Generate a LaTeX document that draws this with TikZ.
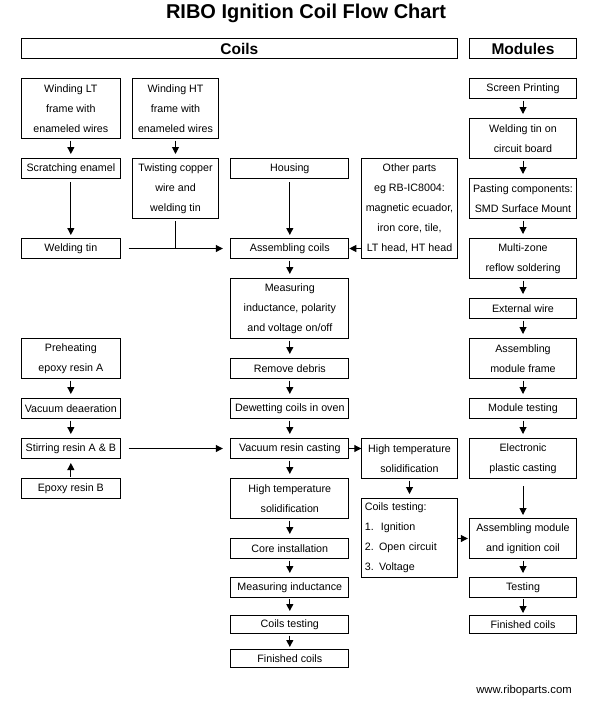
\documentclass[tikz,border=0pt]{standalone}
\usepackage{fontspec}
\setmainfont{Liberation Sans}
\usetikzlibrary{arrows.meta}
\begin{document}
\begin{tikzpicture}[x=1pt,y=-1pt,
  txt/.style={font=\fontsize{10.7}{20}\selectfont},
  bx/.style={draw,line width=1pt,inner sep=0pt,anchor=north west,align=center,txt},
  arr/.style={line width=1pt,-{Triangle[length=7pt,width=7pt]},shorten <=1.5pt,shorten >=4pt},
  harr/.style={line width=1pt,-{Triangle[length=7pt,width=7pt]}},
  ln/.style={line width=1pt}]
\useasboundingbox (0,0) rectangle (599,717);
% title and headers
\node[font=\fontsize{20}{24}\selectfont\bfseries] (title) at (306,13) {RIBO Ignition Coil Flow Chart};
\node[bx,minimum width=435.7pt,minimum height=20pt,font=\fontsize{15.5}{18}\selectfont\bfseries] (coilsH) at (21,38) {Coils};
\node[bx,minimum width=106.4pt,minimum height=20pt,font=\fontsize{15.5}{18}\selectfont\bfseries] (modH) at (469.3,38) {Modules};
% column 1
\node[bx,minimum width=98.7pt,minimum height=60pt] (wlt) at (21,78) {Winding LT\\frame with\\enameled wires};
\node[bx,minimum width=98.7pt,minimum height=20pt] (scr) at (21,158) {Scratching enamel};
\node[bx,minimum width=98.7pt,minimum height=20pt] (wt) at (21,238) {Welding tin};
\node[bx,minimum width=98.7pt,minimum height=40pt] (pre) at (21,338) {Preheating\\epoxy resin A};
\node[bx,minimum width=98.7pt,minimum height=20pt] (vde) at (21,398) {Vacuum deaeration};
\node[bx,minimum width=98.7pt,minimum height=20pt] (stir) at (21,438) {Stirring resin A \& B};
\node[bx,minimum width=98.7pt,minimum height=20pt] (epb) at (21,478) {Epoxy resin B};
% column 2
\node[bx,minimum width=85.4pt,minimum height=60pt] (wht) at (132.3,78) {Winding HT\\frame with\\enameled wires};
\node[bx,minimum width=85.4pt,minimum height=60pt] (twi) at (132.3,158) {Twisting copper\\wire and\\welding tin};
% column 3
\node[bx,minimum width=118pt,minimum height=20pt] (hou) at (230.3,158) {Housing};
\node[bx,minimum width=118pt,minimum height=20pt] (asc) at (230.3,238) {Assembling coils};
\node[bx,minimum width=118pt,minimum height=60pt] (mea) at (230.3,278) {Measuring\\inductance, polarity\\and voltage on/off};
\node[bx,minimum width=118pt,minimum height=20pt] (rem) at (230.3,358) {Remove debris};
\node[bx,minimum width=118pt,minimum height=20pt] (dew) at (230.3,398) {Dewetting coils in oven};
\node[bx,minimum width=118pt,minimum height=20pt] (vrc) at (230.3,438) {Vacuum resin casting};
\node[bx,minimum width=118pt,minimum height=40pt] (hts) at (230.3,478) {High temperature\\solidification};
\node[bx,minimum width=118pt,minimum height=20pt] (core) at (230.3,538) {Core installation};
\node[bx,minimum width=118pt,minimum height=19.5pt] (mi) at (230.3,577) {Measuring inductance};
\node[bx,minimum width=118pt,minimum height=18pt] (ct) at (230.3,615) {Coils testing};
\node[bx,minimum width=118pt,minimum height=17.5pt] (fc) at (230.3,649) {Finished coils};
% column 4
\node[bx,minimum width=95.4pt,minimum height=100pt] (oth) at (361.3,158) {Other parts\\eg RB-IC8004:\\magnetic ecuador,\\iron core, tile,\\LT head, HT head};
\node[bx,minimum width=95.4pt,minimum height=40pt] (ht2) at (361.3,438) {High temperature\\solidification};
\node[bx,minimum height=79pt,text width=89.4pt,inner xsep=3pt,align=left] (ctl) at (361.3,498) {Coils testing:\\1.\ \ Ignition\\2. Open circuit\\3. Voltage};
% column 5
\node[bx,minimum width=106.4pt,minimum height=20pt] (sp) at (469.3,78) {Screen Printing};
\node[bx,minimum width=106.4pt,minimum height=40pt] (wtc) at (469.3,118) {Welding tin on\\circuit board};
\node[bx,minimum width=106.4pt,minimum height=40pt] (pas) at (469.3,178) {Pasting components:\\SMD Surface Mount};
\node[bx,minimum width=106.4pt,minimum height=40pt] (mz) at (469.3,238) {Multi-zone\\reflow soldering};
\node[bx,minimum width=106.4pt,minimum height=20pt] (ew) at (469.3,298) {External wire};
\node[bx,minimum width=106.4pt,minimum height=40pt] (amf) at (469.3,338) {Assembling\\module frame};
\node[bx,minimum width=106.4pt,minimum height=20pt] (mt) at (469.3,398) {Module testing};
\node[bx,minimum width=106.4pt,minimum height=40pt] (epc) at (469.3,438) {Electronic\\plastic casting};
\node[bx,minimum width=106.4pt,minimum height=40pt] (am) at (469.3,518) {Assembling module\\and ignition coil};
\node[bx,minimum width=106.4pt,minimum height=19.5pt] (te) at (469.3,577) {Testing};
\node[bx,minimum width=106.4pt,minimum height=18pt] (fin) at (469.3,615) {Finished coils};
\node[txt,font=\fontsize{11.3}{14}\selectfont] (url) at (524,691) {www.riboparts.com};
% arrows column 1
\draw[arr] (wlt) -- (scr);
\draw[arr,shorten <=3pt,shorten >=3pt] (scr) -- (wt);
\draw[arr] (pre) -- (vde);
\draw[arr] (vde) -- (stir);
\draw[arr] (epb) -- (stir);
% column 2
\draw[arr] (wht) -- (twi);
\coordinate (jn) at (twi.south |- wt.east);
\draw[ln,shorten <=2pt] (twi.south) -- (jn);
% horizontal to assembling
\draw[harr,shorten <=8pt,shorten >=7.5pt] (wt.east) -- (asc.west);
\draw[harr] (oth.west |- asc.east) -- (asc.east);
% column 3
\draw[arr,shorten <=3pt,shorten >=3pt] (hou) -- (asc);
\draw[arr] (asc) -- (mea);
\draw[arr] (mea) -- (rem);
\draw[arr] (rem) -- (dew);
\draw[arr] (dew) -- (vrc);
\draw[arr] (vrc) -- (hts);
\draw[arr] (hts) -- (core);
\draw[arr] (core) -- (mi);
\draw[arr] (mi) -- (ct);
\draw[arr,shorten >=2pt] (ct) -- (fc);
\draw[harr,shorten <=8pt,shorten >=7.5pt] (stir.east) -- (vrc.west);
\draw[harr] (vrc.east) -- (vrc.east -| ht2.west);
% column 4
\draw[arr] (ht2) -- (ctl);
\coordinate (amw) at (am.west);
\draw[harr,shorten >=1.5pt] (ctl.east |- amw) -- (amw);
% column 5
\draw[arr] (sp) -- (wtc);
\draw[arr] (wtc) -- (pas);
\draw[arr] (pas) -- (mz);
\draw[arr] (mz) -- (ew);
\draw[arr] (ew) -- (amf);
\draw[arr] (amf) -- (mt);
\draw[arr] (mt) -- (epc);
\draw[arr,shorten <=7pt,shorten >=3pt] (epc) -- (am);
\draw[arr] (am) -- (te);
\draw[arr,shorten >=2pt] (te) -- (fin);
\end{tikzpicture}
\end{document}
